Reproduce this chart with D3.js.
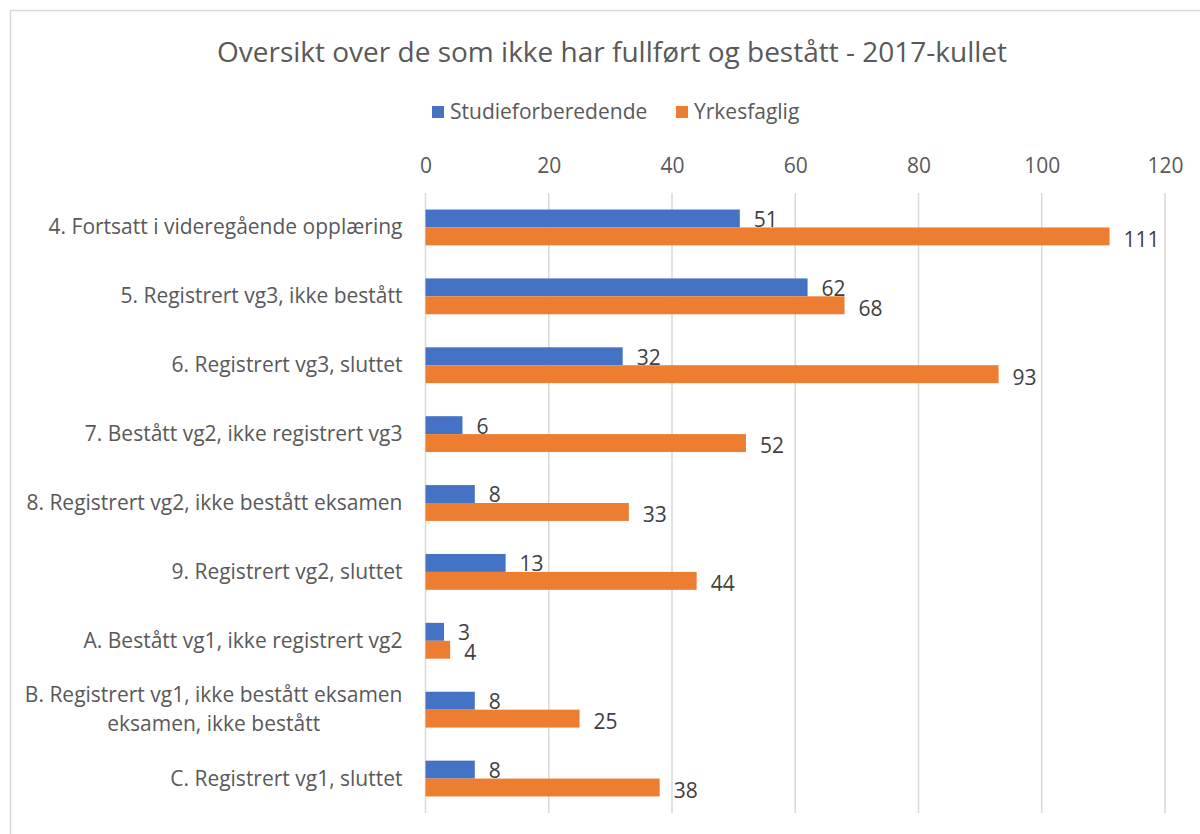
<!DOCTYPE html>
<html>
<head>
<meta charset="utf-8">
<script src="https://cdn.jsdelivr.net/npm/d3@7"></script>
<style>
  body { margin: 0; background: #fff; }
  text { font-family: "Open Sans", "Noto Sans", sans-serif; }
</style>
</head>
<body>
<div id="chart"></div>
<script>
// Chart data
var categories = [
  "4. Fortsatt i videregående opplæring",
  "5. Registrert vg3, ikke bestått",
  "6. Registrert vg3, sluttet",
  "7. Bestått vg2, ikke registrert vg3",
  "8. Registrert vg2, ikke bestått eksamen",
  "9. Registrert vg2, sluttet",
  "A. Bestått vg1, ikke registrert vg2",
  "B. Registrert vg1, ikke bestått eksamen\neksamen, ikke bestått",
  "C. Registrert vg1, sluttet"
];
var seriesNames = ["Studieforberedende", "Yrkesfaglig"];
var studieValues = [51, 62, 32, 6, 8, 13, 3, 8, 8];
var yrkesValues = [111, 68, 93, 52, 33, 44, 4, 25, 38];
var tickValues = [0, 20, 40, 60, 80, 100, 120];
var colors = ["#4472c4", "#ed7d31"];

var svgWidth = 1200;
var svgHeight = 834;
var margin = { top: 193, right: 35, bottom: 21, left: 425.5 };
var width = 1165 - margin.left;
var height = 813 - margin.top;

var svg = d3.select("#chart")
  .append("svg")
  .attr("width", svgWidth)
  .attr("height", svgHeight);

// outer chart border
svg.append("rect")
  .attr("x", 10.5).attr("y", 10.5)
  .attr("width", 1200).attr("height", 840)
  .attr("fill", "none")
  .attr("stroke", "#d9d9d9")
  .attr("stroke-width", 1.5);

// title
svg.append("text")
  .attr("x", 612).attr("y", 62)
  .attr("text-anchor", "middle")
  .attr("fill", "#595959")
  .style("font-size", "28px")
  .text("Oversikt over de som ikke har fullført og bestått - 2017-kullet");

// legend
var legend = svg.append("g").attr("transform", "translate(432, 112)");
var legendX = [0, 244];
seriesNames.forEach(function(name, i) {
  legend.append("rect")
    .attr("x", legendX[i]).attr("y", -6)
    .attr("width", 12).attr("height", 12)
    .attr("fill", colors[i]);
  legend.append("text")
    .attr("x", legendX[i] + 18).attr("y", 0)
    .attr("dy", "0.35em")
    .attr("fill", "#595959")
    .style("font-size", "21px")
    .text(name);
});

var chartGroup = svg.append("g")
  .attr("transform", `translate(${margin.left}, ${margin.top})`);

// scales
var xScale = d3.scaleLinear().domain([0, 120]).range([0, width]);
var yScale = d3.scaleBand().domain(categories).range([0, height]).paddingInner(0.48).paddingOuter(0.24);
var subScale = d3.scaleBand().domain([0, 1]).range([0, yScale.bandwidth()]);

// gridlines + top axis labels
var topAxis = d3.axisTop(xScale).tickValues(tickValues).tickSize(0).tickPadding(0);
var xAxis = chartGroup.append("g")
  .attr("transform", "translate(0, -20)")
  .call(topAxis);
xAxis.select(".domain").remove();
xAxis.selectAll("text")
  .attr("fill", "#595959")
  .style("font-size", "21px");

chartGroup.append("g")
  .selectAll("line")
  .data(tickValues)
  .enter()
  .append("line")
  .attr("x1", d => xScale(d)).attr("x2", d => xScale(d))
  .attr("y1", 0).attr("y2", height)
  .attr("stroke", "#d9d9d9")
  .attr("stroke-width", 1.5);

// category labels (second line centred under the first)
var catLabels = chartGroup.append("g")
  .selectAll("text")
  .data(categories)
  .enter()
  .append("text")
  .attr("fill", "#595959")
  .style("font-size", "21px");
catLabels.each(function(d) {
  var lines = d.split("\n");
  var el = d3.select(this);
  var yc = yScale(d) + yScale.bandwidth() / 2;
  var startY = yc - (lines.length - 1) * 29 / 2 + 7;
  var firstWidth = 0;
  lines.forEach(function(line, i) {
    var t = el.append("tspan")
      .attr("y", startY + i * 29)
      .text(line);
    if (i === 0) {
      firstWidth = t.node().getComputedTextLength();
      t.attr("x", -23).attr("text-anchor", "end");
    } else {
      t.attr("x", -23 - firstWidth / 2).attr("text-anchor", "middle");
    }
  });
});

// bars
var rows = categories.map(function(c, i) {
  return { cat: c, values: [studieValues[i], yrkesValues[i]] };
});

var groups = chartGroup.selectAll(".row")
  .data(rows)
  .enter()
  .append("g")
  .attr("transform", d => `translate(0, ${yScale(d.cat)})`);

groups.selectAll("rect")
  .data(d => d.values)
  .enter()
  .append("rect")
  .attr("x", xScale(0))
  .attr("y", (d, i) => subScale(i))
  .attr("width", d => xScale(d) - xScale(0))
  .attr("height", subScale.bandwidth())
  .attr("fill", (d, i) => colors[i]);

// value labels, just right of each bar
groups.selectAll(".val")
  .data(d => d.values)
  .enter()
  .append("text")
  .attr("x", d => xScale(d) + 14)
  .attr("y", (d, i) => subScale(i) + subScale.bandwidth() / 2 + (i === 0 ? 1 : 3))
  .attr("dy", "0.35em")
  .attr("fill", "#404040")
  .style("font-size", "21px")
  .text(d => d);
</script>
</body>
</html>
